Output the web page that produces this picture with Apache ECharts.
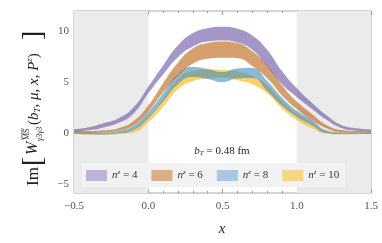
<!DOCTYPE html>
<html><head><meta charset="utf-8">
<script src="https://cdn.jsdelivr.net/npm/echarts@6/dist/echarts.min.js"></script>
<style>html,body{margin:0;padding:0;background:#fff}#c{width:382px;height:243px}</style>
</head><body><div id="c"></div>
<script>
const xs = [-0.5,-0.4,-0.3,-0.2,-0.1,0,0.1,0.2,0.3,0.4,0.5,0.6,0.7,0.8,0.9,1.0,1.1,1.2,1.3,1.4,1.5];
const n4Lo  = [0.13,0.28,0.55,1.0,1.9,3.9,5.75,7.45,8.5,9.0,9.1,8.9,8.2,6.6,4.8,3.55,2.4,1.3,0.5,0.22,0.13];
const n4Hi  = [0.38,0.56,0.95,1.45,2.5,4.55,6.65,8.6,9.8,10.3,10.45,10.25,9.6,8.2,6.1,4.4,3.0,1.75,0.8,0.48,0.36];
const n6Lo  = [0.03,0.03,0.07,0.23,0.75,2.1,4.0,5.6,6.8,7.3,7.4,7.35,6.6,5.4,3.7,2.35,1.3,0.46,0.07,0.05,0.03];
const n6Hi  = [0.2,0.2,0.27,0.48,1.15,2.7,4.9,6.9,8.3,8.85,9.0,8.85,8.05,6.7,4.7,3.1,1.9,0.8,0.3,0.2,0.18];
const n8Lo  = [-0.1,-0.12,-0.12,-0.03,0.3,1.45,3.1,4.8,5.5,5.3,5.0,5.35,5.4,4.15,2.7,1.6,0.8,0.0,-0.1,-0.1,-0.1];
const n8Hi  = [0.05,0.05,0.05,0.2,0.7,2.05,3.9,5.8,6.5,6.3,6.0,6.35,6.4,5.15,3.5,2.2,1.3,0.25,0.06,0.05,0.05];
const n10Lo = [-0.1,-0.15,-0.2,-0.1,0.05,1.05,2.55,4.3,5.1,5.35,5.45,5.2,4.8,3.9,2.4,1.3,0.5,-0.05,-0.15,-0.12,-0.1];
const n10Hi = [0.05,0.02,-0.03,0.05,0.4,1.55,3.35,5.3,6.1,6.25,6.2,6.05,5.6,4.7,3.15,1.9,1.0,0.2,0.02,0.03,0.05];
const seriesNames = ['n4','n6','n8','n10'];
const nzValues = ['4','6','8','10'];
const yTickLabels = [-5,0,5,10];
const yMinorTicks = [-5,-4,-3,-2,-1,0,1,2,3,4,5,6,7,8,9,10,11,12];

const F = 'Liberation Serif, DejaVu Serif, serif';
const bandColor = {n4:'rgba(105,80,163,0.6)', n6:'rgba(185,97,13,0.6)', n8:'rgba(63,138,188,0.6)', n10:'rgba(247,180,0,0.6)'};
const legColor = {n4:'#bdb2d9', n6:'#dcae86', n8:'#a9c8e0', n10:'#f8d77e'};
const SM = 0.5;

function band(name, lo, hi, z) {
  const st = 'st_' + name;
  return [
    {type:'line', name: name + '_base', xAxisIndex:2, stack: st, stackStrategy:'all', smooth:SM, symbol:'none', silent:true, z,
     lineStyle:{width:0, opacity:0}, data: lo.slice()},
    {type:'line', name, xAxisIndex:2, stack: st, stackStrategy:'all', smooth:SM, symbol:'none', silent:true, z,
     lineStyle:{width:0, opacity:0}, itemStyle:{color: legColor[name]},
     areaStyle:{color: bandColor[name], opacity:1},
     data: hi.map((h,i)=>+(h - lo[i]).toFixed(4))}
  ];
}

const fmtNum = v => (v < 0 ? '\u2212' : '') + Math.abs(v);
const chart = echarts.init(document.getElementById('c'), null, {renderer:'canvas'});
const tickColor = '#9a9a9a';
const yBase = {type:'value', min:-5.9, max:12, splitLine:{show:false}, axisLine:{show:false, onZero:false}};
chart.setOption({
  animation:false,
  backgroundColor:'#fff',
  grid:{left:74, right:11, top:11, bottom:50, show:true, borderColor:'#a8a8a8', borderWidth:1, backgroundColor:'#fff'},
  xAxis:[
    {type:'value', min:-0.5, max:1.5, interval:0.5, position:'bottom', splitLine:{show:false}, axisLine:{show:false, onZero:false},
     axisTick:{inside:true, length:4, lineStyle:{color:tickColor}},
     minorTick:{show:true, splitNumber:5, length:2, lineStyle:{color:tickColor}},
     axisLabel:{margin:8, fontFamily:F, fontSize:11, color:'#555', formatter: v => (v<0?'\u2212':'') + Math.abs(v).toFixed(1)}},
    {type:'value', min:-0.5, max:1.5, interval:0.5, position:'top', splitLine:{show:false}, axisLine:{show:false, onZero:false},
     axisTick:{inside:true, length:4, lineStyle:{color:tickColor}},
     minorTick:{show:true, splitNumber:5, length:2, lineStyle:{color:tickColor}},
     axisLabel:{show:false}},
    {type:'category', data: xs.map(String), boundaryGap:false, show:false, position:'bottom', axisLine:{onZero:false}}
  ],
  yAxis:[
    Object.assign({}, yBase, {position:'left',
      axisTick:{inside:true, length:4, customValues: yTickLabels, lineStyle:{color:tickColor}},
      axisLabel:{margin:5, fontFamily:F, fontSize:11, color:'#555', customValues: yTickLabels, formatter: fmtNum}}),
    Object.assign({}, yBase, {position:'left',
      axisTick:{inside:true, length:2, customValues: yMinorTicks, lineStyle:{color:tickColor}},
      axisLabel:{show:false}}),
    Object.assign({}, yBase, {position:'right',
      axisTick:{inside:true, length:4, customValues: yTickLabels, lineStyle:{color:tickColor}},
      axisLabel:{show:false}}),
    Object.assign({}, yBase, {position:'right',
      axisTick:{inside:true, length:2, customValues: yMinorTicks, lineStyle:{color:tickColor}},
      axisLabel:{show:false}})
  ],
  legend:{
    left:82, top:163, orient:'horizontal', itemGap:14, itemWidth:21, itemHeight:11, icon:'rect',
    padding:[6,6,6,4], backgroundColor:'#f2f2f2',
    data: seriesNames.map(n => ({name:n, itemStyle:{color: legColor[n]}})),
    formatter: name => '{i|n}{s|z} = ' + nzValues[seriesNames.indexOf(name)],
    textStyle:{fontFamily:F, fontSize:11, color:'#333',
      rich:{i:{fontFamily:F, fontStyle:'italic', fontSize:11, color:'#333'},
            s:{fontFamily:F, fontStyle:'italic', fontSize:7, color:'#333', padding:[0,0,6,0]}}}
  },
  graphic:[
    {type:'text', x:222, y:151, style:{text:'{i|b}{s|T} = 0.48 fm', align:'center', verticalAlign:'middle',
      fontFamily:F, fontSize:11, fill:'#222',
      rich:{i:{fontFamily:F, fontStyle:'italic', fontSize:11}, s:{fontFamily:F, fontStyle:'italic', fontSize:7, padding:[5,0,0,0]}}}},
    {type:'text', x:222, y:229, style:{text:'x', align:'center', verticalAlign:'middle', fontFamily:F, fontStyle:'italic', fontSize:15, fill:'#222'}},
    {type:'group', x:34, y:186, rotation:Math.PI/2, children:[
      {type:'text', x:0, y:0, style:{text:'Im', align:'left', verticalAlign:'middle', fontFamily:F, fontSize:17, fill:'#222'}},
      {type:'text', x:20, y:0, style:{text:'[', align:'left', verticalAlign:'middle', fontFamily:F, fontSize:28, fill:'#222'}},
      {type:'text', x:31, y:-1, style:{text:'W', align:'left', verticalAlign:'middle', fontFamily:F, fontStyle:'italic', fontSize:16, fill:'#222'}},
      {type:'text', x:46, y:-7, style:{text:'MS', align:'left', verticalAlign:'middle', fontFamily:F, fontSize:8, fill:'#222'}},
      {type:'line', shape:{x1:46, y1:-12, x2:58, y2:-12}, style:{stroke:'#222', lineWidth:0.7}},
      {type:'text', x:45, y:6, style:{text:'\u03b33\u03b33', align:'left', verticalAlign:'middle', fontFamily:F, fontStyle:'italic', fontSize:8, fill:'#222'}},
      {type:'text', x:61, y:0, style:{text:'({i|b}{sb|T}, {i|\u03bc}, {i|x}, {i|P}{sp|z})', align:'left', verticalAlign:'middle',
        fontFamily:F, fontSize:15, fill:'#222',
        rich:{i:{fontFamily:F, fontStyle:'italic', fontSize:15}, sb:{fontFamily:F, fontStyle:'italic', fontSize:9, padding:[8,0,0,0]},
              sp:{fontFamily:F, fontStyle:'italic', fontSize:9, padding:[0,0,8,0]}}}},
      {type:'text', x:146, y:0, style:{text:']', align:'left', verticalAlign:'middle', fontFamily:F, fontSize:28, fill:'#222'}}
    ]}
  ],
  series:[
    {type:'line', name:'shade', xAxisIndex:0, data:[], silent:true, z:1,
     markArea:{silent:true, itemStyle:{color:'#ebebeb'}, data:[[{xAxis:-0.5},{xAxis:0}],[{xAxis:1},{xAxis:1.5}]]}},
    ...band('n10', n10Lo, n10Hi, 3),
    ...band('n8', n8Lo, n8Hi, 3),
    ...band('n6', n6Lo, n6Hi, 3),
    ...band('n4', n4Lo, n4Hi, 3)
  ]
});
</script></body></html>
